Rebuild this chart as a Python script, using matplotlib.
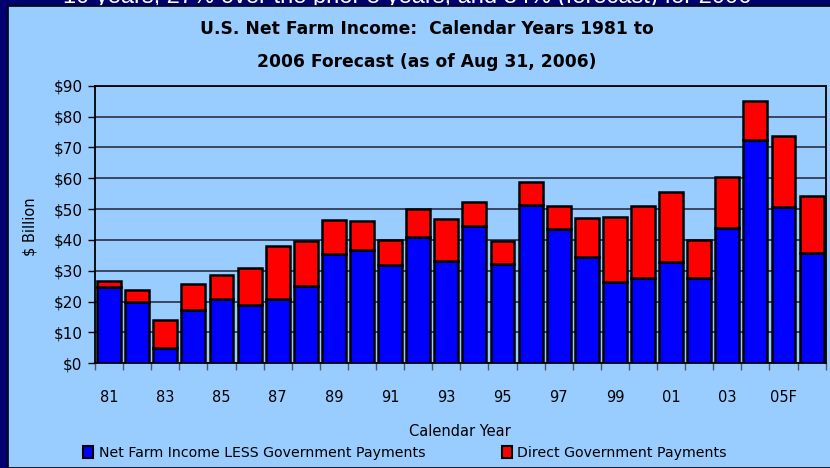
import numpy as np
import matplotlib
matplotlib.use("Agg")
import matplotlib.pyplot as plt
from matplotlib.patches import Rectangle, Patch

# valores (bilhoes de dolares)
anos = ["81", "82", "83", "84", "85", "86", "87", "88", "89", "90", "91", "92", "93",
        "94", "95", "96", "97", "98", "99", "00", "01", "02", "03", "04", "05F", "06F"]
renda_liquida = [24.8, 19.8, 4.9, 17.4, 20.7, 18.9, 21.0, 25.1, 35.5, 36.8, 31.9, 41.1, 33.2,
                 44.6, 32.2, 51.4, 43.6, 34.6, 26.3, 27.8, 32.8, 27.7, 43.8, 72.4, 50.8, 35.9]
pagamentos_gov = [2.0, 4.0, 9.1, 8.4, 7.8, 11.9, 17.0, 14.6, 11.0, 9.2, 8.1, 9.0, 13.5,
                  7.8, 7.3, 7.5, 7.5, 12.5, 21.2, 23.3, 22.7, 12.3, 16.5, 12.8, 23.0, 18.3]
ticks_y = [0, 10, 20, 30, 40, 50, 60, 70, 80, 90]

azul_fundo = '#99CCFF'
W, H = 830, 468

fig = plt.figure(figsize=(W/100, H/100), dpi=100)
fig.patch.set_facecolor('#000070')

# texto cortado do slide, por tras do painel
fig.text(0.49, 1 - 3/H, "10 years, 27% over the prior 5 years, and 34% (forecast) for 2006",
         ha='center', va='baseline', color='white', fontsize=17,
         family='Liberation Sans', zorder=-3)

# painel azul claro
painel = Rectangle((8/W, 0), 1, 1 - 6/H, transform=fig.transFigure,
                   facecolor=azul_fundo, edgecolor='black', linewidth=1.2, zorder=-1)
fig.patches.append(painel)

ax = fig.add_axes([95/W, 1 - 363.3/H, (825.7 - 95)/W, (363.3 - 85.7)/H])
ax.set_facecolor(azul_fundo)

x = np.arange(len(anos))
ax.bar(x, renda_liquida, width=0.85, color='#0000FF', edgecolor='black', linewidth=1.8, zorder=3)
ax.bar(x, pagamentos_gov, bottom=renda_liquida, width=0.85, color='#FF0000',
       edgecolor='black', linewidth=1.8, zorder=3)

ax.set_xlim(-0.5, len(anos) - 0.5)
ax.set_ylim(0, 90)
ax.set_yticks(ticks_y)
ax.set_yticklabels(['$%d' % v for v in ticks_y], fontsize=11, family='DejaVu Sans')
ax.yaxis.grid(True, color='#222233', linewidth=1.1, zorder=0)
ax.tick_params(axis='y', direction='out', length=5, width=1, pad=4)

ax.set_xticks(x[::2])
ax.set_xticklabels(anos[::2], fontsize=10.5, family='DejaVu Sans')
ax.set_xticks(np.arange(-0.5, len(anos), 1), minor=True)
ax.tick_params(axis='x', which='major', length=0, pad=19)
ax.tick_params(axis='x', which='minor', direction='out', length=5, width=1, color='#555566')

for s in ax.spines.values():
    s.set_color('black')
    s.set_linewidth(1.3)

ax.set_xlabel('Calendar Year', fontsize=10.5, labelpad=14)
fig.text(30/W, 1 - 227/H, '$ Billion', rotation=90, ha='center', va='center', fontsize=10.5)

fig.text(427/W, 1 - 29/H, 'U.S. Net Farm Income:  Calendar Years 1981 to',
         ha='center', va='center', fontsize=12.3, fontweight='bold')
fig.text(427/W, 1 - 62/H, '2006 Forecast (as of Aug 31, 2006)',
         ha='center', va='center', fontsize=12.3, fontweight='bold')

handles = [Patch(facecolor='#0000FF', edgecolor='black', linewidth=1.5,
                 label='Net Farm Income LESS Government Payments'),
           Patch(facecolor='#FF0000', edgecolor='black', linewidth=1.5,
                 label='Direct Government Payments')]
fig.legend(handles=handles, loc='center', bbox_to_anchor=(0.488, 1 - 453/H), ncol=2,
           frameon=False, fontsize=10.2, handlelength=0.7, handleheight=0.9,
           handletextpad=0.4, columnspacing=5.4)

fig.savefig('out.png', dpi=100, facecolor=fig.get_facecolor())
